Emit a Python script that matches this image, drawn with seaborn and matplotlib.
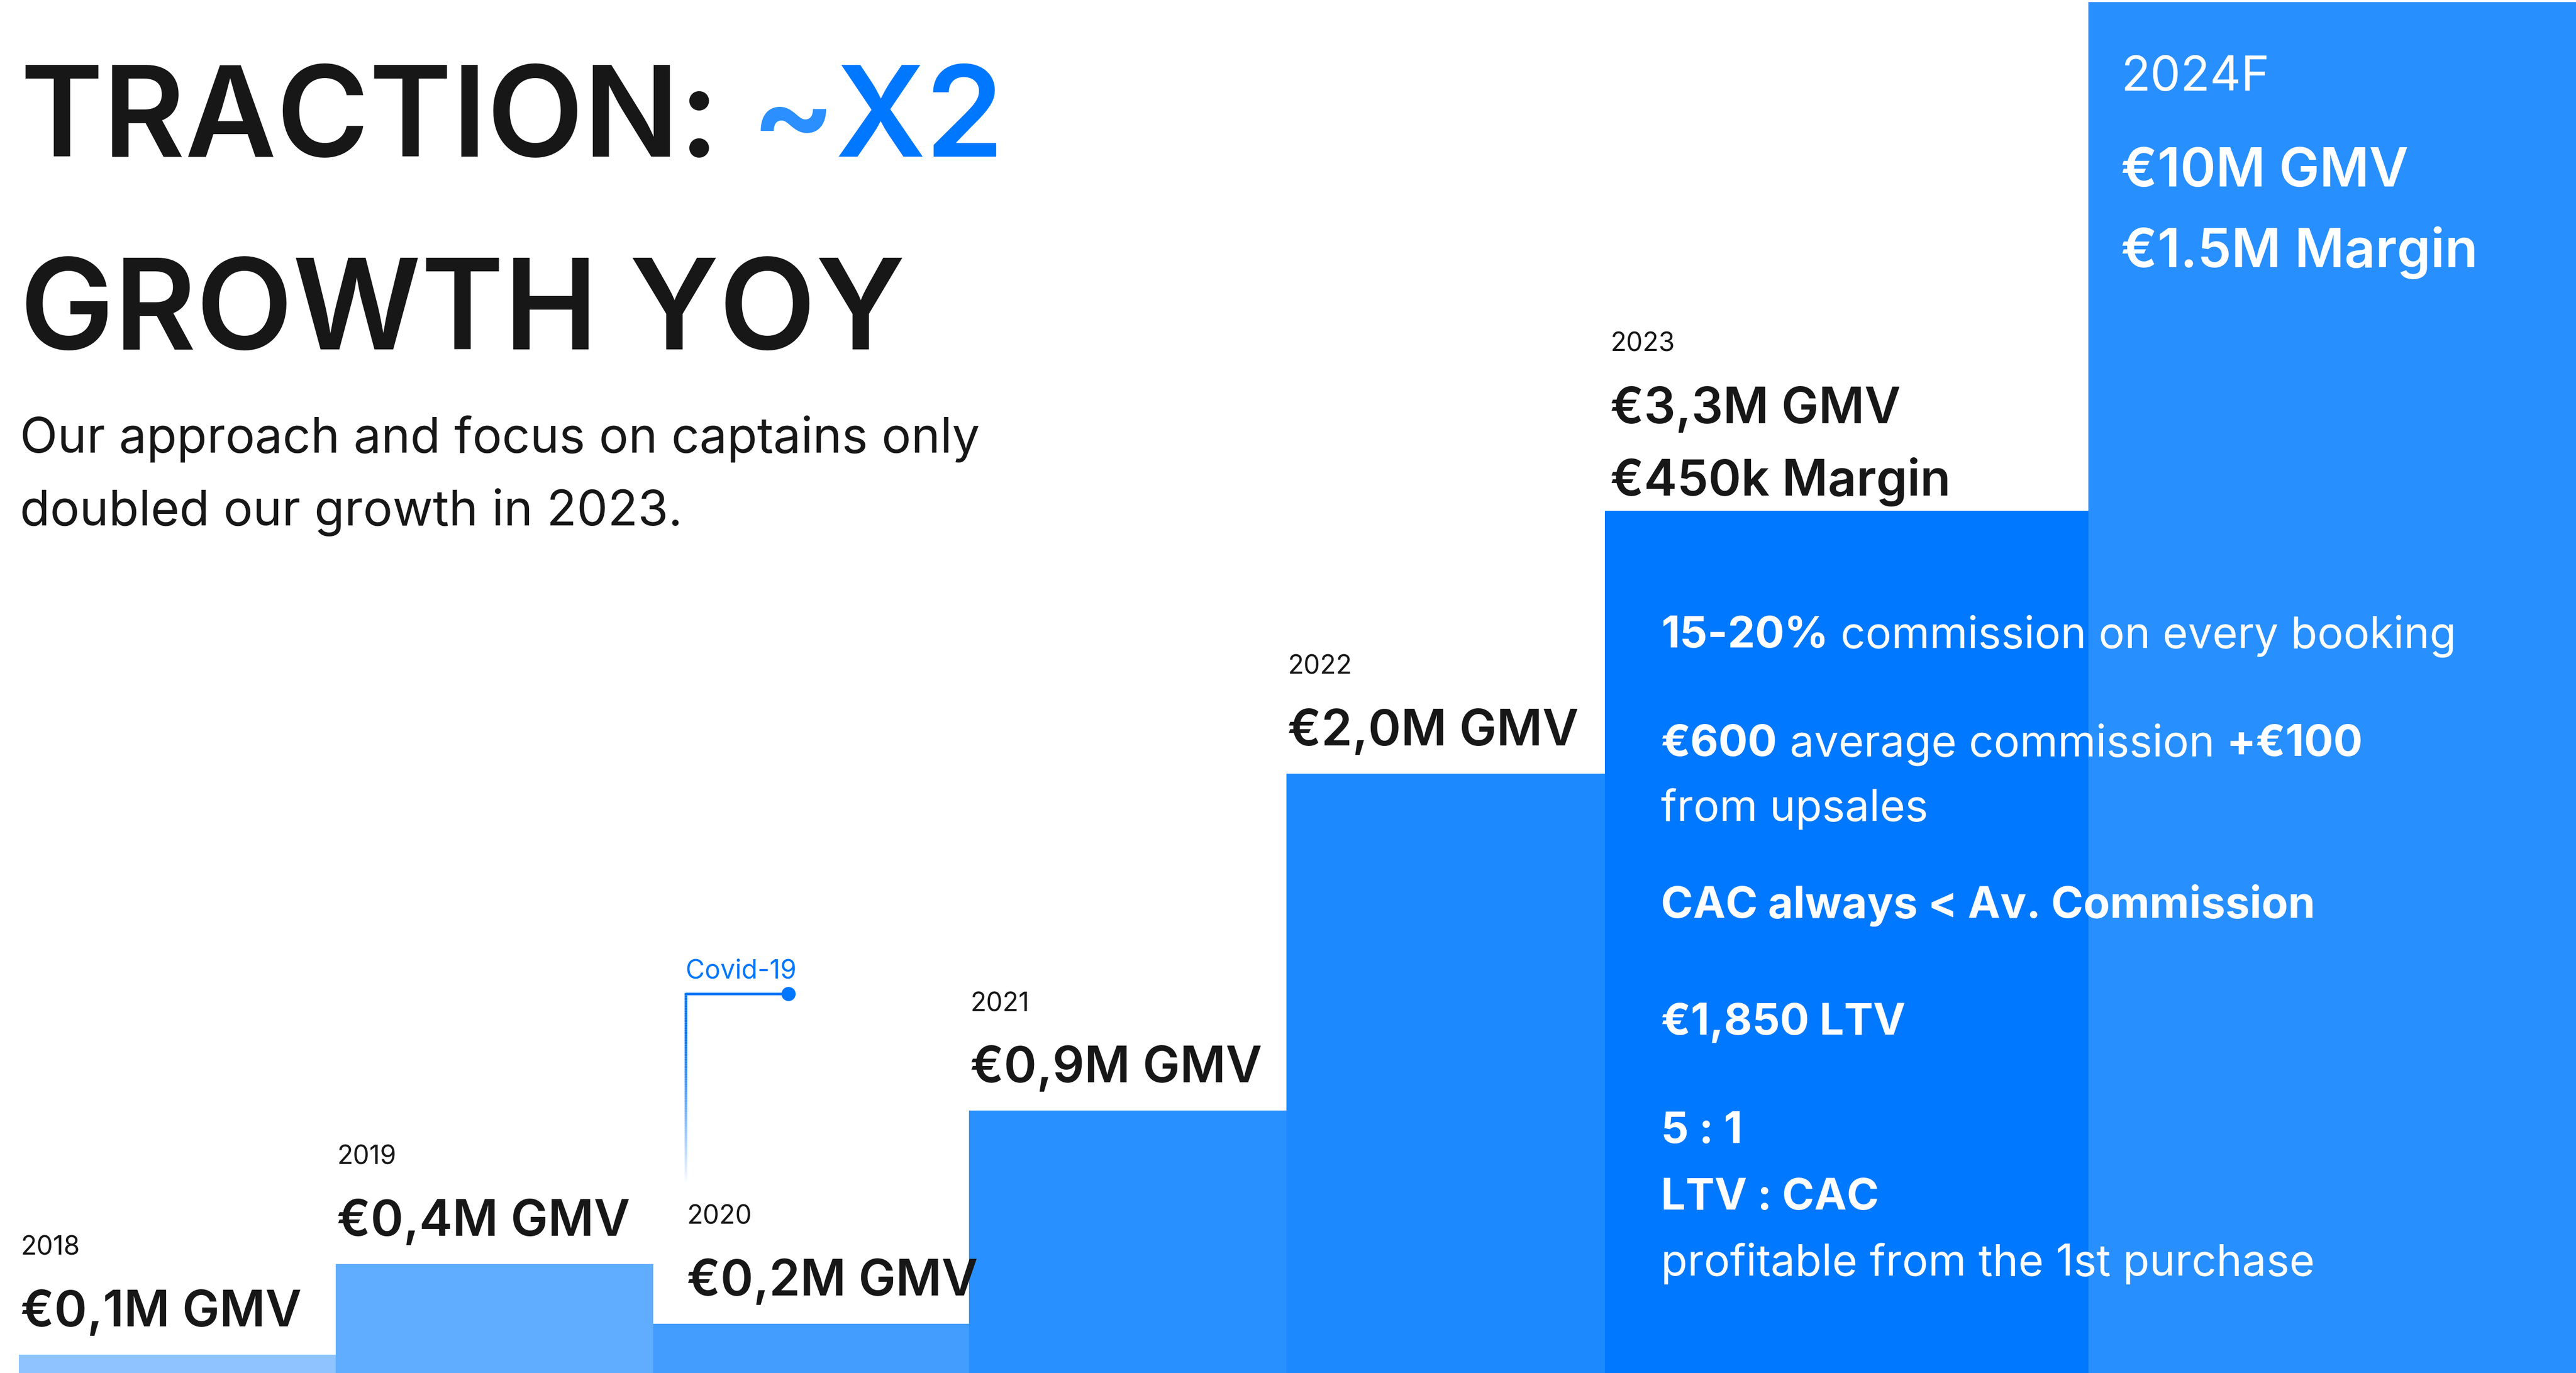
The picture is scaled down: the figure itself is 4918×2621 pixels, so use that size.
import matplotlib
matplotlib.use("Agg")
from matplotlib import pyplot as plt
from matplotlib.collections import LineCollection
import numpy as np
import pandas as pd
import seaborn as sns

# data (bar heights in % of chart height)
years = ["2018", "2019", "2020", "2021", "2022", "2023", "2024F"]
bar_heights = [1.34, 7.94, 3.59, 19.11, 43.65, 62.80, 99.85]
gmv_labels = ["€0,1M GMV", "€0,4M GMV", "€0,2M GMV", "€0,9M GMV",
              "€2,0M GMV", "€3,3M GMV", "€10M GMV"]
margin_labels = ["", "", "", "", "", "€450k Margin", "€1.5M Margin"]
bar_colors = ["#8EC3FF", "#60ADFF", "#429DFF", "#2990FF",
              "#1D89FF", "#0078FF", "#288FFF"]

title_runs = [
    [("TRACTION: ", "#171717"), ("~", "#2B8FFF"), ("X2", "#0077FF")],
    [("GROWTH YOY", "#171717")],
]
subtitle = ["Our approach and focus on captains only",
            "doubled our growth in 2023."]
unit_lines = [
    [("15-20%", "bold"), (" commission on every booking", "normal")],
    [("€600", "bold"), (" average commission ", "normal"), ("+€100", "bold")],
    [("from upsales", "normal")],
    [("CAC always < Av. Commission", "bold")],
    [("€1,850 LTV", "bold")],
    [("5 : 1", "bold")],
    [("LTV : CAC", "bold")],
    [("profitable from the 1st purchase", "normal")],
]

# layout (pixels)
W, H, DPI = 4918, 2621, 100
col_edges = [36, 641, 1247, 1850, 2456, 3064, 3987, 4918]
label_dx = [3, 2, 64, 2, 2, 10, 62]
unit_baselines = [1236, 1443, 1567, 1752, 1975, 2182, 2309, 2435]
INK = "#171717"
BLUE = "#0077FF"

sns.set_theme(style="white")
plt.rcParams["font.family"] = ["Inter", "DejaVu Sans"]

fig = plt.figure(figsize=(W / DPI, H / DPI), dpi=DPI)
ax = fig.add_axes([0, 0, 1, 1])
df = pd.DataFrame({"year": years, "height": bar_heights})
sns.barplot(df, x="year", y="height", hue="year", palette=bar_colors,
            saturation=1, legend=False, linewidth=0, ax=ax)
for p, left, right in zip(sorted(ax.patches, key=lambda p: p.get_x()),
                          col_edges[:-1], col_edges[1:]):
    p.set_x(left)
    p.set_width(right - left)
ax.set_xlim(0, W)
ax.set_ylim(0, 100)
ax.axis("off")

# overlay in image pixel coords (y downwards)
ov = fig.add_axes([0, 0, 1, 1])
ov.set_xlim(0, W)
ov.set_ylim(H, 0)
ov.axis("off")
ov.patch.set_alpha(0)
renderer = fig.canvas.get_renderer()


def px(size_px):
    return size_px * 72 / DPI


def text_width(s, size, weight):
    t = ov.text(0, 0, s, fontsize=size, fontweight=weight)
    w = t.get_window_extent(renderer).width
    t.remove()
    return w


def runs(x, y, parts, size, weight="normal", color=INK):
    space = text_width("n n", size, weight) - text_width("nn", size, weight)
    for s, style in parts:
        c, w = color, weight
        if style in ("bold", "normal"):
            w = style
        else:
            c = style
        lead = len(s) - len(s.lstrip(" "))
        trail = len(s) - len(s.rstrip(" "))
        x += lead * space
        t = ov.text(x, y, s.strip(" "), fontsize=size, fontweight=w,
                    color=c, va="baseline", ha="left")
        x = ov.transData.inverted().transform(
            (t.get_window_extent(renderer).x1, 0))[0]
        x += trail * space


# title and subtitle
runs(38, 299, title_runs[0], px(240), "semibold")
runs(38, 667, title_runs[1], px(240), "semibold")
for line, yb in zip(subtitle, [864, 1003]):
    ov.text(38, yb, line, fontsize=px(94), color=INK, va="baseline")

# labels above bars
for i, (yr, h) in enumerate(zip(years, bar_heights)):
    top = H * (1 - h / 100)
    x0 = col_edges[i] + label_dx[i]
    if yr == "2024F":
        ov.text(x0, 173, yr, fontsize=px(92), color="white", va="baseline")
        ov.text(x0, 356, gmv_labels[i], fontsize=px(103), color="white",
                fontweight="semibold", va="baseline")
        ov.text(x0, 510, margin_labels[i], fontsize=px(103), color="white",
                fontweight="semibold", va="baseline")
        continue
    if margin_labels[i]:
        offs = [305, 167, 29]
    else:
        offs = [190, 54]
    ov.text(x0, top - offs[0], yr, fontsize=px(50), color=INK, va="baseline")
    ov.text(x0, top - offs[1], gmv_labels[i], fontsize=px(95), color=INK,
            fontweight="semibold", va="baseline")
    if margin_labels[i]:
        ov.text(x0, top - offs[2], margin_labels[i], fontsize=px(95),
                color=INK, fontweight="semibold", va="baseline")

# unit economics block on the 2023 bar
for parts, yb in zip(unit_lines, unit_baselines):
    runs(3171, yb, parts, px(83), color="white")

# covid-19 marker
cx = col_edges[2] + 62
ov.text(cx, 1867, "Covid-19", fontsize=px(50), color=BLUE, va="baseline")
ov.plot([cx, 1505], [1897, 1897], color=BLUE, lw=px(5), solid_capstyle="butt")
ov.plot([1505], [1897], "o", color=BLUE, ms=px(27), mew=0)
ys = np.linspace(1895, 2262, 80)
segs = [[(cx, a), (cx, b)] for a, b in zip(ys[:-1], ys[1:])]
alphas = np.clip(1.15 - np.linspace(0, 1, len(segs)) ** 1.3 * 1.15, 0, 1)
cols = [(0, 0.467, 1, a) for a in alphas]
ov.add_collection(LineCollection(segs, colors=cols, linewidths=px(5)))

fig.savefig("out.png", dpi=DPI, facecolor="white")
